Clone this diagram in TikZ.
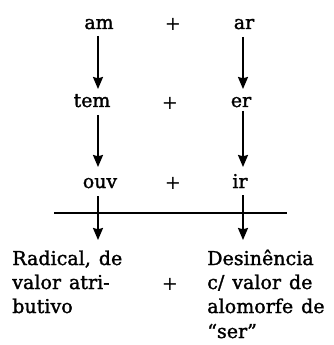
\documentclass[tikz,border=0pt]{standalone}
\usepackage{fontspec}
\setmainfont{DejaVu Serif}
\newfontfamily\lblfnt{DejaVu Serif}[FakeBold=1.5]
\newfontfamily\blkfnt{DejaVu Serif}[FakeBold=1.5,WordSpace=1.3]
\usetikzlibrary{arrows.meta}
\begin{document}
\begin{tikzpicture}[x=0.75pt,y=-0.75pt,
  lbl/.style={font=\lblfnt\fontsize{14.2}{18}\selectfont, inner sep=0pt, anchor=base},
  ln/.style={font=\blkfnt\fontsize{14.3}{18}\selectfont, inner sep=0pt, anchor=base west},
  plus/.style={font=\fontsize{14.5}{14}\selectfont, inner sep=0pt},
  arr/.style={line width=1.5pt, -{Stealth[length=9pt,width=7.5pt,inset=1pt]}}]
\useasboundingbox (0,0) rectangle (333,345);
% row 1
\node[lbl] (am) at (99,29) {am};
\node[plus] (p1) at (173,24) {+};
\node[lbl] (ar) at (244,29) {ar};
% row 2
\node[lbl] (tem) at (92,107) {tem};
\node[plus] (p2) at (170,103) {+};
\node[lbl] (er) at (241,107) {er};
% row 3
\node[lbl] (ouv) at (100,188) {ouv};
\node[plus] (p3) at (173,183) {+};
\node[lbl] (ir) at (240,188) {ir};
% arrow end points
\coordinate (a1s) at (98,36); \coordinate (a1e) at (98,89);
\coordinate (b1s) at (243,37); \coordinate (b1e) at (243,89);
\coordinate (a2s) at (98,115); \coordinate (a2e) at (98,167);
\coordinate (b2s) at (243,111); \coordinate (b2e) at (243,167);
\coordinate (a3s) at (98,196); \coordinate (a3e) at (98,240);
\coordinate (b3s) at (243,195); \coordinate (b3e) at (243,240);
\coordinate (hl) at (54,213); \coordinate (hr) at (287,213);
\draw[arr] (a1s) -- (a1e);
\draw[arr] (b1s) -- (b1e);
\draw[arr] (a2s) -- (a2e);
\draw[arr] (b2s) -- (b2e);
\draw[arr] (a3s) -- (a3e);
\draw[arr] (b3s) -- (b3e);
\draw[line width=1.4pt] (hl) -- (hr);
% bottom blocks
\node[ln] (r1) at (12,265) {Radical, de};
\node[ln] (r2) at (12,289) {valor atri-};
\node[ln] (r3) at (12,313) {butivo};
\node[plus] (p4) at (170,284) {+};
\node[ln] (d1) at (207,265) {Desinência};
\node[ln] (d2) at (207,289) {c/ valor de};
\node[ln] (d3) at (207,313) {alomorfe de};
\node[ln] (d4) at (207,338) {“ser”};
\end{tikzpicture}
\end{document}
